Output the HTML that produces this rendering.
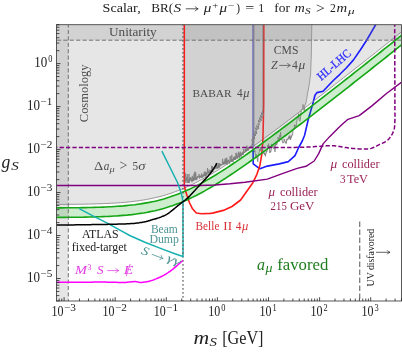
<!DOCTYPE html>
<html><head><meta charset="utf-8"><title>plot</title><style>html,body{margin:0;padding:0;background:#fff}svg{display:block;will-change:transform}</style></head><body>
<svg width="402" height="352" viewBox="0 0 402 352">
<defs><clipPath id="c"><rect x="56.5" y="24.7" width="345.0" height="276.3"/></clipPath></defs>
<rect width="402" height="352" fill="#fff"/>
<g clip-path="url(#c)">
<polygon points="56.5,24.7 56.5,204.4 59.4,204.4 62.3,204.4 65.2,204.4 68.1,204.4 71.0,204.3 73.9,204.3 76.8,204.3 79.7,204.2 82.6,204.2 85.5,204.1 88.4,204.1 91.3,204.0 94.2,203.9 97.1,203.8 100.0,203.7 102.9,203.6 105.8,203.5 108.7,203.4 111.6,203.2 114.5,203.1 117.4,202.9 120.3,202.7 123.2,202.4 126.1,202.2 129.0,201.9 131.9,201.6 134.8,201.2 137.7,200.9 140.6,200.4 143.5,200.0 146.4,199.5 149.3,198.9 152.2,198.3 155.1,197.7 158.0,197.0 160.9,196.3 163.8,195.5 166.7,194.6 169.6,193.7 172.5,192.7 175.4,191.6 178.3,190.5 181.2,189.4 184.1,188.2 187.0,186.9 189.9,185.6 192.8,184.2 195.7,182.7 198.6,181.2 201.5,179.7 204.4,178.1 207.3,176.4 210.2,174.8 213.1,173.0 216.0,171.3 218.9,169.5 221.8,167.7 224.7,165.8 227.6,163.9 230.4,162.0 233.3,160.1 236.2,158.1 239.1,156.1 242.0,154.1 244.9,152.1 247.8,150.1 250.7,148.0 253.6,146.0 256.5,143.9 259.4,141.8 262.3,139.7 265.2,137.6 268.1,135.5 271.0,133.3 273.9,131.2 276.8,129.0 279.7,126.9 282.6,124.7 285.5,122.5 288.4,120.3 291.3,118.1 294.2,115.9 297.1,113.7 300.0,111.5 302.9,109.3 305.8,107.1 308.7,104.9 311.6,102.6 314.5,100.4 317.4,98.2 320.3,95.9 323.2,93.7 326.1,91.4 329.0,89.2 331.9,86.9 334.8,84.6 337.7,82.4 340.6,80.1 343.5,77.8 346.4,75.6 349.3,73.3 352.2,71.0 355.1,68.7 358.0,66.4 360.9,64.2 363.8,61.9 366.7,59.6 369.6,57.3 372.5,55.0 375.4,52.7 378.3,50.4 381.2,48.1 384.1,45.8 387.0,43.5 389.9,41.2 392.8,38.9 395.7,36.5 398.6,34.2 401.5,31.9 401.5,24.7" fill="#808080" fill-opacity="0.2"/>
<path d="M253 24.7 V152" fill="none" stroke="#6c6cd6" stroke-width="1.5"/>
<path d="M375.8 24.5 L366.8 40.0 L360.3 50.0 L353.3 60.1 L346.5 67.8 L339.9 74.3 L333.8 80.0 L328.0 86.0 L323.1 91.2 L316.9 92.6 L315.0 95.2 L312.6 104.5 L308.5 118.5 L304.6 135.3 L302.5 140.5 L298.7 147.5 L295.0 155.7 L288.3 161.6 L279.3 163.9 L267.4 166.1 L259.9 168.8 L253.2 163.9 L253.1 150.0" fill="none" stroke="#1c1cff" stroke-width="1.6" stroke-linejoin="round"/>
<polygon points="56.5,207.9 59.4,207.9 62.3,207.9 65.2,207.8 68.1,207.8 71.0,207.8 73.9,207.8 76.8,207.7 79.7,207.7 82.6,207.6 85.5,207.6 88.4,207.5 91.3,207.5 94.2,207.4 97.1,207.3 100.0,207.2 102.9,207.1 105.8,207.0 108.7,206.8 111.6,206.7 114.5,206.5 117.4,206.3 120.3,206.1 123.2,205.9 126.1,205.6 129.0,205.3 131.9,205.0 134.8,204.7 137.7,204.3 140.6,203.9 143.5,203.4 146.4,202.9 149.3,202.4 152.2,201.8 155.1,201.2 158.0,200.5 160.9,199.7 163.8,198.9 166.7,198.0 169.6,197.1 172.5,196.1 175.4,195.1 178.3,194.0 181.2,192.8 184.1,191.6 187.0,190.3 189.9,189.0 192.8,187.6 195.7,186.2 198.6,184.7 201.5,183.1 204.4,181.5 207.3,179.9 210.2,178.2 213.1,176.5 216.0,174.7 218.9,172.9 221.8,171.1 224.7,169.3 227.6,167.4 230.4,165.5 233.3,163.5 236.2,161.6 239.1,159.6 242.0,157.6 244.9,155.6 247.8,153.5 250.7,151.5 253.6,149.4 256.5,147.4 259.4,145.3 262.3,143.2 265.2,141.0 268.1,138.9 271.0,136.8 273.9,134.6 276.8,132.5 279.7,130.3 282.6,128.1 285.5,126.0 288.4,123.8 291.3,121.6 294.2,119.4 297.1,117.2 300.0,115.0 302.9,112.8 305.8,110.5 308.7,108.3 311.6,106.1 314.5,103.9 317.4,101.6 320.3,99.4 323.2,97.1 326.1,94.9 329.0,92.6 331.9,90.4 334.8,88.1 337.7,85.8 340.6,83.6 343.5,81.3 346.4,79.0 349.3,76.8 352.2,74.5 355.1,72.2 358.0,69.9 360.9,67.6 363.8,65.3 366.7,63.0 369.6,60.7 372.5,58.4 375.4,56.1 378.3,53.8 381.2,51.5 384.1,49.2 387.0,46.9 389.9,44.6 392.8,42.3 395.7,40.0 398.6,37.7 401.5,35.4 401.5,44.9 398.6,47.2 395.7,49.5 392.8,51.8 389.9,54.1 387.0,56.5 384.1,58.8 381.2,61.1 378.3,63.4 375.4,65.7 372.5,68.0 369.6,70.3 366.7,72.6 363.8,74.9 360.9,77.1 358.0,79.4 355.1,81.7 352.2,84.0 349.3,86.3 346.4,88.6 343.5,90.8 340.6,93.1 337.7,95.4 334.8,97.6 331.9,99.9 329.0,102.2 326.1,104.4 323.2,106.7 320.3,108.9 317.4,111.1 314.5,113.4 311.6,115.6 308.7,117.8 305.8,120.1 302.9,122.3 300.0,124.5 297.1,126.7 294.2,128.9 291.3,131.1 288.4,133.3 285.5,135.5 282.6,137.7 279.7,139.8 276.8,142.0 273.9,144.2 271.0,146.3 268.1,148.4 265.2,150.6 262.3,152.7 259.4,154.8 256.5,156.9 253.6,159.0 250.7,161.0 247.8,163.1 244.9,165.1 242.0,167.1 239.1,169.1 236.2,171.1 233.3,173.1 230.4,175.0 227.6,176.9 224.7,178.8 221.8,180.6 218.9,182.5 216.0,184.3 213.1,186.0 210.2,187.7 207.3,189.4 204.4,191.1 201.5,192.7 198.6,194.2 195.7,195.7 192.8,197.1 189.9,198.5 187.0,199.9 184.1,201.1 181.2,202.4 178.3,203.5 175.4,204.6 172.5,205.7 169.6,206.6 166.7,207.6 163.8,208.4 160.9,209.2 158.0,210.0 155.1,210.7 152.2,211.3 149.3,211.9 146.4,212.5 143.5,213.0 140.6,213.4 137.7,213.8 134.8,214.2 131.9,214.6 129.0,214.9 126.1,215.2 123.2,215.4 120.3,215.6 117.4,215.9 114.5,216.0 111.6,216.2 108.7,216.4 105.8,216.5 102.9,216.6 100.0,216.7 97.1,216.8 94.2,216.9 91.3,217.0 88.4,217.0 85.5,217.1 82.6,217.2 79.7,217.2 76.8,217.2 73.9,217.3 71.0,217.3 68.1,217.3 65.2,217.4 62.3,217.4 59.4,217.4 56.5,217.4" fill="#22aa22" fill-opacity="0.22"/>
<path d="M56.5 204.4 L59.4 204.4 L62.3 204.4 L65.2 204.4 L68.1 204.4 L71.0 204.3 L73.9 204.3 L76.8 204.3 L79.7 204.2 L82.6 204.2 L85.5 204.1 L88.4 204.1 L91.3 204.0 L94.2 203.9 L97.1 203.8 L100.0 203.7 L102.9 203.6 L105.8 203.5 L108.7 203.4 L111.6 203.2 L114.5 203.1 L117.4 202.9 L120.3 202.7 L123.2 202.4 L126.1 202.2 L129.0 201.9 L131.9 201.6 L134.8 201.2 L137.7 200.9 L140.6 200.4 L143.5 200.0 L146.4 199.5 L149.3 198.9 L152.2 198.3 L155.1 197.7 L158.0 197.0 L160.9 196.3 L163.8 195.5 L166.7 194.6 L169.6 193.7 L172.5 192.7 L175.4 191.6 L178.3 190.5 L181.2 189.4 L184.1 188.2 L187.0 186.9 L189.9 185.6 L192.8 184.2 L195.7 182.7 L198.6 181.2 L201.5 179.7 L204.4 178.1 L207.3 176.4 L210.2 174.8 L213.1 173.0 L216.0 171.3 L218.9 169.5 L221.8 167.7 L224.7 165.8 L227.6 163.9 L230.4 162.0 L233.3 160.1 L236.2 158.1 L239.1 156.1 L242.0 154.1 L244.9 152.1 L247.8 150.1 L250.7 148.0 L253.6 146.0 L256.5 143.9 L259.4 141.8 L262.3 139.7 L265.2 137.6 L268.1 135.5 L271.0 133.3 L273.9 131.2 L276.8 129.0 L279.7 126.9 L282.6 124.7 L285.5 122.5 L288.4 120.3 L291.3 118.1 L294.2 115.9 L297.1 113.7 L300.0 111.5 L302.9 109.3 L305.8 107.1 L308.7 104.9 L311.6 102.6 L314.5 100.4 L317.4 98.2 L320.3 95.9 L323.2 93.7 L326.1 91.4 L329.0 89.2 L331.9 86.9 L334.8 84.6 L337.7 82.4 L340.6 80.1 L343.5 77.8 L346.4 75.6 L349.3 73.3 L352.2 71.0 L355.1 68.7 L358.0 66.4 L360.9 64.2 L363.8 61.9 L366.7 59.6 L369.6 57.3 L372.5 55.0 L375.4 52.7 L378.3 50.4 L381.2 48.1 L384.1 45.8 L387.0 43.5 L389.9 41.2 L392.8 38.9 L395.7 36.5 L398.6 34.2 L401.5 31.9" fill="none" stroke="#8c8c8c" stroke-width="0.9"/>
<rect x="56.5" y="24.7" width="11.599999999999994" height="276.3" fill="#808080" fill-opacity="0.2"/>
<rect x="68.3" y="24.7" width="333.2" height="15.3" fill="#808080" fill-opacity="0.2"/>
<path d="M184.3 24.5 L184.3 185.5 L185.4 190.5 L186.9 195.3 L189.4 202.5 L192.5 208.8 L196.3 213.0 L201.6 213.7 L210.0 213.4 L212.5 213.1 L223.3 210.4 L232.0 206.5 L240.6 200.0 L247.2 190.7 L252.5 183.3 L256.9 174.3 L259.9 165.4 L261.7 154.9 L262.9 140.0 L263.7 105.0 L263.8 24.5" fill="none" stroke="#ff1a1a" stroke-width="1.6" stroke-linejoin="round"/>
<polygon points="185.1,24.7 185.1,182 185.2,182.3 185.6,173.3 186.0,182.8 186.5,177.6 186.9,180.8 187.3,174.3 187.7,182.9 188.1,179.3 188.6,183.0 189.0,174.0 189.4,182.8 189.8,177.9 190.2,180.7 190.7,177.0 191.1,180.5 191.5,178.5 191.9,182.2 192.3,175.9 192.8,181.3 193.2,177.6 193.6,181.0 194.0,173.7 194.4,180.3 194.9,171.6 195.3,179.8 195.7,172.4 196.1,180.2 196.5,177.2 197.0,179.6 197.4,175.9 197.8,177.5 198.2,176.2 198.6,177.4 199.1,174.0 199.5,178.6 199.9,175.8 200.3,177.5 200.7,175.6 201.2,178.0 201.6,173.5 202.0,177.5 202.4,174.9 202.8,177.6 203.3,174.6 203.7,176.7 204.1,172.6 204.5,176.0 204.9,171.3 205.4,176.5 205.8,172.2 206.2,176.1 206.6,172.7 207.0,174.7 207.5,168.1 207.9,174.2 208.3,171.4 208.7,173.1 209.1,169.6 209.6,172.6 210.0,170.9 210.4,172.8 210.8,170.0 211.2,172.3 211.7,165.9 212.1,171.8 212.5,166.2 212.9,171.8 213.3,168.7 213.8,169.2 214.2,167.2 214.6,169.3 215.0,167.5 215.4,168.6 215.9,163.5 216.3,168.4 216.7,165.5 217.1,168.9 217.5,165.5 218.0,168.3 218.4,163.0 218.8,168.0 219.2,163.2 219.6,167.5 220.1,163.8 220.5,166.1 220.9,164.1 221.3,165.7 221.7,164.3 222.2,164.9 222.6,158.8 223.0,165.0 223.4,162.0 223.8,164.3 224.3,160.7 224.7,164.4 225.1,158.6 225.5,164.1 225.9,158.5 226.4,164.0 226.8,157.7 227.2,164.5 227.6,160.2 228.0,162.7 228.5,159.8 228.9,162.2 229.3,160.9 229.7,163.7 230.1,156.1 230.6,161.2 231.0,159.7 231.4,161.8 231.8,154.9 232.2,161.9 232.7,159.2 233.1,161.8 233.5,157.4 233.9,159.9 234.3,156.6 234.8,160.0 235.2,156.5 235.6,160.0 236.0,152.8 236.4,158.5 236.9,153.3 237.3,158.8 237.7,155.8 238.1,156.8 238.5,151.8 239.0,158.3 239.4,153.4 239.8,157.7 240.2,151.7 240.6,156.3 241.1,152.7 241.5,156.5 241.9,153.9 242.3,155.0 242.7,151.9 243.2,155.0 243.6,149.3 244.0,153.2 244.4,151.9 244.8,152.7 245.3,149.1 245.7,152.1 246.1,148.6 246.5,151.3 246.9,145.6 247.4,150.5 247.8,147.1 248.2,150.7 248.6,148.1 249.0,148.7 249.5,147.3 249.9,148.0 250.3,146.7 250.7,147.0 251.1,145.5 251.6,148.3 252.0,143.7 252.8,145.0 251.9,139.5 253.8,142.2 252.9,136.7 254.7,139.1 253.8,133.6 255.6,136.0 254.9,131.2 256.8,133.9 255.6,127.8 257.3,130.0 256.7,125.6 258.8,128.8 258.0,123.8 259.3,125.1 258.5,120.2 260.2,122.2 259.5,117.8 261.4,120.7 260.5,115.4 262.4,118.3 261.4,112.7 263.3,115.5 262.5,110.8 263.7,24.7" fill="#808080" fill-opacity="0.2"/>
<path d="M184.6 182.0 L185.2 182.3 L185.6 173.3 L186.0 182.8 L186.5 177.6 L186.9 180.8 L187.3 174.3 L187.7 182.9 L188.1 179.3 L188.6 183.0 L189.0 174.0 L189.4 182.8 L189.8 177.9 L190.2 180.7 L190.7 177.0 L191.1 180.5 L191.5 178.5 L191.9 182.2 L192.3 175.9 L192.8 181.3 L193.2 177.6 L193.6 181.0 L194.0 173.7 L194.4 180.3 L194.9 171.6 L195.3 179.8 L195.7 172.4 L196.1 180.2 L196.5 177.2 L197.0 179.6 L197.4 175.9 L197.8 177.5 L198.2 176.2 L198.6 177.4 L199.1 174.0 L199.5 178.6 L199.9 175.8 L200.3 177.5 L200.7 175.6 L201.2 178.0 L201.6 173.5 L202.0 177.5 L202.4 174.9 L202.8 177.6 L203.3 174.6 L203.7 176.7 L204.1 172.6 L204.5 176.0 L204.9 171.3 L205.4 176.5 L205.8 172.2 L206.2 176.1 L206.6 172.7 L207.0 174.7 L207.5 168.1 L207.9 174.2 L208.3 171.4 L208.7 173.1 L209.1 169.6 L209.6 172.6 L210.0 170.9 L210.4 172.8 L210.8 170.0 L211.2 172.3 L211.7 165.9 L212.1 171.8 L212.5 166.2 L212.9 171.8 L213.3 168.7 L213.8 169.2 L214.2 167.2 L214.6 169.3 L215.0 167.5 L215.4 168.6 L215.9 163.5 L216.3 168.4 L216.7 165.5 L217.1 168.9 L217.5 165.5 L218.0 168.3 L218.4 163.0 L218.8 168.0 L219.2 163.2 L219.6 167.5 L220.1 163.8 L220.5 166.1 L220.9 164.1 L221.3 165.7 L221.7 164.3 L222.2 164.9 L222.6 158.8 L223.0 165.0 L223.4 162.0 L223.8 164.3 L224.3 160.7 L224.7 164.4 L225.1 158.6 L225.5 164.1 L225.9 158.5 L226.4 164.0 L226.8 157.7 L227.2 164.5 L227.6 160.2 L228.0 162.7 L228.5 159.8 L228.9 162.2 L229.3 160.9 L229.7 163.7 L230.1 156.1 L230.6 161.2 L231.0 159.7 L231.4 161.8 L231.8 154.9 L232.2 161.9 L232.7 159.2 L233.1 161.8 L233.5 157.4 L233.9 159.9 L234.3 156.6 L234.8 160.0 L235.2 156.5 L235.6 160.0 L236.0 152.8 L236.4 158.5 L236.9 153.3 L237.3 158.8 L237.7 155.8 L238.1 156.8 L238.5 151.8 L239.0 158.3 L239.4 153.4 L239.8 157.7 L240.2 151.7 L240.6 156.3 L241.1 152.7 L241.5 156.5 L241.9 153.9 L242.3 155.0 L242.7 151.9 L243.2 155.0 L243.6 149.3 L244.0 153.2 L244.4 151.9 L244.8 152.7 L245.3 149.1 L245.7 152.1 L246.1 148.6 L246.5 151.3 L246.9 145.6 L247.4 150.5 L247.8 147.1 L248.2 150.7 L248.6 148.1 L249.0 148.7 L249.5 147.3 L249.9 148.0 L250.3 146.7 L250.7 147.0 L251.1 145.5 L251.6 148.3 L252.0 143.7" fill="none" stroke="#7a7a7a" stroke-width="0.75" stroke-linejoin="round"/>
<path d="M252.0 143.7 L252.8 145.0 L251.9 139.5 L253.8 142.2 L252.9 136.7 L254.7 139.1 L253.8 133.6 L255.6 136.0 L254.9 131.2 L256.8 133.9 L255.6 127.8 L257.3 130.0 L256.7 125.6 L258.8 128.8 L258.0 123.8 L259.3 125.1 L258.5 120.2 L260.2 122.2 L259.5 117.8 L261.4 120.7 L260.5 115.4 L262.4 118.3 L261.4 112.7 L263.3 115.5 L262.5 110.8" fill="none" stroke="#808080" stroke-width="1.0" stroke-linejoin="round"/>
<polygon points="253,24.7 253.0,147.6 253.4,147.4 253.8,149.8 254.2,150.2 254.6,152.2 255.0,150.6 255.4,155.9 255.8,157.5 256.2,154.2 256.6,155.6 257.0,157.3 257.4,160.0 257.8,161.6 258.2,155.1 258.6,154.8 259.0,152.8 259.4,151.4 259.8,149.1 260.2,151.1 260.6,147.0 261.0,150.1 261.4,149.8 261.8,147.3 262.2,148.1 262.6,149.7 263.0,153.9 263.4,150.9 263.8,150.6 264.2,153.8 264.6,155.0 265.0,152.9 265.4,156.3 265.8,153.6 266.2,153.5 266.6,150.9 267.0,151.6 267.4,150.0 267.8,145.0 268.2,148.0 268.6,143.7 269.0,147.6 269.4,146.0 269.8,152.9 270.2,150.9 270.6,152.2 271.0,151.3 271.4,146.5 271.8,143.9 272.2,146.2 272.6,147.6 273.0,146.7 273.4,148.2 273.8,148.9 274.2,145.2 274.6,148.6 275.0,151.8 275.4,146.6 275.8,143.1 276.2,145.2 276.6,143.9 277.0,144.4 277.4,141.2 277.8,142.0 278.2,137.1 278.6,141.4 279.0,141.7 279.4,140.4 279.8,134.9 280.2,137.2 280.6,132.2 281.0,138.8 281.4,139.3 281.8,138.8 282.2,141.7 282.6,141.6 283.0,143.2 283.4,142.1 283.8,142.6 284.2,139.1 284.6,140.7 285.0,141.8 285.4,142.6 285.8,141.6 286.2,143.7 286.6,139.2 287.0,139.9 287.4,140.2 287.8,138.7 288.2,139.2 288.6,136.7 289.0,139.3 289.4,135.6 289.8,138.3 290.2,136.9 290.6,140.0 291.0,135.6 291.4,137.7 291.8,134.9 292.2,134.8 292.6,135.2 293.0,130.1 293.4,128.6 293.8,128.2 294.2,129.3 294.6,124.7 295.0,127.2 295.4,125.2 295.8,125.9 296.2,125.9 296.6,124.1 297.0,119.3 297.4,118.9 297.8,119.0 298.2,118.0 298.6,113.7 299.0,118.8 299.4,120.8 299.8,121.3 300.2,120.9 300.6,116.5 301.0,113.5 301.4,109.8 301.8,109.6 302.2,108.8 302.6,108.7 303.0,104.5 303.4,106.3 303.8,108.7 304.2,110.7 304.6,106.9 305.0,104.5 305.6,104.2 306.6,99.5 307.5,94.0 308.6,88.0 309.6,82.0 310.6,74.0 311.3,55.0 311.8,24.5" fill="#808080" fill-opacity="0.2"/>
<path d="M253.0 147.6 L253.4 147.4 L253.8 149.8 L254.2 150.2 L254.6 152.2 L255.0 150.6 L255.4 155.9 L255.8 157.5 L256.2 154.2 L256.6 155.6 L257.0 157.3 L257.4 160.0 L257.8 161.6 L258.2 155.1 L258.6 154.8 L259.0 152.8 L259.4 151.4 L259.8 149.1 L260.2 151.1 L260.6 147.0 L261.0 150.1 L261.4 149.8 L261.8 147.3 L262.2 148.1 L262.6 149.7 L263.0 153.9 L263.4 150.9 L263.8 150.6 L264.2 153.8 L264.6 155.0 L265.0 152.9 L265.4 156.3 L265.8 153.6 L266.2 153.5 L266.6 150.9 L267.0 151.6 L267.4 150.0 L267.8 145.0 L268.2 148.0 L268.6 143.7 L269.0 147.6 L269.4 146.0 L269.8 152.9 L270.2 150.9 L270.6 152.2 L271.0 151.3 L271.4 146.5 L271.8 143.9 L272.2 146.2 L272.6 147.6 L273.0 146.7 L273.4 148.2 L273.8 148.9 L274.2 145.2 L274.6 148.6 L275.0 151.8 L275.4 146.6 L275.8 143.1 L276.2 145.2 L276.6 143.9 L277.0 144.4 L277.4 141.2 L277.8 142.0 L278.2 137.1 L278.6 141.4 L279.0 141.7 L279.4 140.4 L279.8 134.9 L280.2 137.2 L280.6 132.2 L281.0 138.8 L281.4 139.3 L281.8 138.8 L282.2 141.7 L282.6 141.6 L283.0 143.2 L283.4 142.1 L283.8 142.6 L284.2 139.1 L284.6 140.7 L285.0 141.8 L285.4 142.6 L285.8 141.6 L286.2 143.7 L286.6 139.2 L287.0 139.9 L287.4 140.2 L287.8 138.7 L288.2 139.2 L288.6 136.7 L289.0 139.3 L289.4 135.6 L289.8 138.3 L290.2 136.9 L290.6 140.0 L291.0 135.6 L291.4 137.7 L291.8 134.9 L292.2 134.8 L292.6 135.2 L293.0 130.1 L293.4 128.6 L293.8 128.2 L294.2 129.3 L294.6 124.7 L295.0 127.2 L295.4 125.2 L295.8 125.9 L296.2 125.9 L296.6 124.1 L297.0 119.3 L297.4 118.9 L297.8 119.0 L298.2 118.0 L298.6 113.7 L299.0 118.8 L299.4 120.8 L299.8 121.3 L300.2 120.9 L300.6 116.5 L301.0 113.5 L301.4 109.8 L301.8 109.6 L302.2 108.8 L302.6 108.7 L303.0 104.5 L303.4 106.3 L303.8 108.7 L304.2 110.7 L304.6 106.9 L305.0 104.5 L305.6 104.2" fill="none" stroke="#7f7f7f" stroke-width="0.85" stroke-linejoin="round"/>
<path d="M305.6 104.2 L306.6 99.5 L307.5 94.0 L308.6 88.0 L309.6 82.0 L310.6 74.0 L311.3 55.0 L311.8 24.5" fill="none" stroke="#8a8a8a" stroke-width="0.8" stroke-linejoin="round"/>
<path d="M254.0 24.7 V147" fill="none" stroke="#707070" stroke-width="0.6"/>
<path d="M262.9 24.7 V113" fill="none" stroke="#707070" stroke-width="0.6"/>
<path d="M56.5 207.9 L59.4 207.9 L62.3 207.9 L65.2 207.8 L68.1 207.8 L71.0 207.8 L73.9 207.8 L76.8 207.7 L79.7 207.7 L82.6 207.6 L85.5 207.6 L88.4 207.5 L91.3 207.5 L94.2 207.4 L97.1 207.3 L100.0 207.2 L102.9 207.1 L105.8 207.0 L108.7 206.8 L111.6 206.7 L114.5 206.5 L117.4 206.3 L120.3 206.1 L123.2 205.9 L126.1 205.6 L129.0 205.3 L131.9 205.0 L134.8 204.7 L137.7 204.3 L140.6 203.9 L143.5 203.4 L146.4 202.9 L149.3 202.4 L152.2 201.8 L155.1 201.2 L158.0 200.5 L160.9 199.7 L163.8 198.9 L166.7 198.0 L169.6 197.1 L172.5 196.1 L175.4 195.1 L178.3 194.0 L181.2 192.8 L184.1 191.6 L187.0 190.3 L189.9 189.0 L192.8 187.6 L195.7 186.2 L198.6 184.7 L201.5 183.1 L204.4 181.5 L207.3 179.9 L210.2 178.2 L213.1 176.5 L216.0 174.7 L218.9 172.9 L221.8 171.1 L224.7 169.3 L227.6 167.4 L230.4 165.5 L233.3 163.5 L236.2 161.6 L239.1 159.6 L242.0 157.6 L244.9 155.6 L247.8 153.5 L250.7 151.5 L253.6 149.4 L256.5 147.4 L259.4 145.3 L262.3 143.2 L265.2 141.0 L268.1 138.9 L271.0 136.8 L273.9 134.6 L276.8 132.5 L279.7 130.3 L282.6 128.1 L285.5 126.0 L288.4 123.8 L291.3 121.6 L294.2 119.4 L297.1 117.2 L300.0 115.0 L302.9 112.8 L305.8 110.5 L308.7 108.3 L311.6 106.1 L314.5 103.9 L317.4 101.6 L320.3 99.4 L323.2 97.1 L326.1 94.9 L329.0 92.6 L331.9 90.4 L334.8 88.1 L337.7 85.8 L340.6 83.6 L343.5 81.3 L346.4 79.0 L349.3 76.8 L352.2 74.5 L355.1 72.2 L358.0 69.9 L360.9 67.6 L363.8 65.3 L366.7 63.0 L369.6 60.7 L372.5 58.4 L375.4 56.1 L378.3 53.8 L381.2 51.5 L384.1 49.2 L387.0 46.9 L389.9 44.6 L392.8 42.3 L395.7 40.0 L398.6 37.7 L401.5 35.4" fill="none" stroke="#14a614" stroke-width="1.6"/>
<path d="M56.5 217.4 L59.4 217.4 L62.3 217.4 L65.2 217.4 L68.1 217.3 L71.0 217.3 L73.9 217.3 L76.8 217.2 L79.7 217.2 L82.6 217.2 L85.5 217.1 L88.4 217.0 L91.3 217.0 L94.2 216.9 L97.1 216.8 L100.0 216.7 L102.9 216.6 L105.8 216.5 L108.7 216.4 L111.6 216.2 L114.5 216.0 L117.4 215.9 L120.3 215.6 L123.2 215.4 L126.1 215.2 L129.0 214.9 L131.9 214.6 L134.8 214.2 L137.7 213.8 L140.6 213.4 L143.5 213.0 L146.4 212.5 L149.3 211.9 L152.2 211.3 L155.1 210.7 L158.0 210.0 L160.9 209.2 L163.8 208.4 L166.7 207.6 L169.6 206.6 L172.5 205.7 L175.4 204.6 L178.3 203.5 L181.2 202.4 L184.1 201.1 L187.0 199.9 L189.9 198.5 L192.8 197.1 L195.7 195.7 L198.6 194.2 L201.5 192.7 L204.4 191.1 L207.3 189.4 L210.2 187.7 L213.1 186.0 L216.0 184.3 L218.9 182.5 L221.8 180.6 L224.7 178.8 L227.6 176.9 L230.4 175.0 L233.3 173.1 L236.2 171.1 L239.1 169.1 L242.0 167.1 L244.9 165.1 L247.8 163.1 L250.7 161.0 L253.6 159.0 L256.5 156.9 L259.4 154.8 L262.3 152.7 L265.2 150.6 L268.1 148.4 L271.0 146.3 L273.9 144.2 L276.8 142.0 L279.7 139.8 L282.6 137.7 L285.5 135.5 L288.4 133.3 L291.3 131.1 L294.2 128.9 L297.1 126.7 L300.0 124.5 L302.9 122.3 L305.8 120.1 L308.7 117.8 L311.6 115.6 L314.5 113.4 L317.4 111.1 L320.3 108.9 L323.2 106.7 L326.1 104.4 L329.0 102.2 L331.9 99.9 L334.8 97.6 L337.7 95.4 L340.6 93.1 L343.5 90.8 L346.4 88.6 L349.3 86.3 L352.2 84.0 L355.1 81.7 L358.0 79.4 L360.9 77.1 L363.8 74.9 L366.7 72.6 L369.6 70.3 L372.5 68.0 L375.4 65.7 L378.3 63.4 L381.2 61.1 L384.1 58.8 L387.0 56.5 L389.9 54.1 L392.8 51.8 L395.7 49.5 L398.6 47.2 L401.5 44.9" fill="none" stroke="#14a614" stroke-width="1.6"/>
<line x1="68.3" y1="24.7" x2="68.3" y2="301.0" stroke="#6c6c6c" stroke-width="0.95" stroke-dasharray="4.2 2.2" stroke-dashoffset="1.2"/>
<line x1="56.5" y1="40.2" x2="401.5" y2="40.2" stroke="#6c6c6c" stroke-width="0.95" stroke-dasharray="4.2 2.22" stroke-dashoffset="6.06"/>
<line x1="183.0" y1="24.7" x2="183.0" y2="301.0" stroke="#5c5c5c" stroke-width="1.55" stroke-dasharray="0.2 3.8" stroke-linecap="round"/>
<line x1="359.7" y1="221.6" x2="359.7" y2="302.0" stroke="#767676" stroke-width="1.25" stroke-dasharray="5.3 2.7"/>
<path d="M56.5 147.6 H217.2" fill="none" stroke="#800080" stroke-width="1.5" stroke-dasharray="4.3 2.12" stroke-dashoffset="3.36"/>
<path d="M216.5 147.5 L218.6 147.5 L221.3 147.5 L224.4 147.5 L227.9 147.5 L231.7 147.5 L235.8 147.5 L239.9 147.4 L244.1 147.4 L248.4 147.4 L252.4 147.4 L256.4 147.4 L260.0 147.4 L263.5 147.4 L267.2 147.4 L270.8 147.4 L274.5 147.4 L278.2 147.4 L281.8 147.4 L285.3 147.4 L288.7 147.4 L291.8 147.4 L294.8 147.4 L297.6 147.3 L300.0 147.3 L302.1 147.3 L303.9 147.2 L305.5 147.2 L306.8 147.1 L308.0 147.1 L309.0 147.0 L310.0 146.9 L310.9 146.9 L311.8 146.8 L312.7 146.7 L313.7 146.7 L314.9 146.6 L316.2 146.5 L317.5 146.4 L318.8 146.4 L320.2 146.3 L321.5 146.2 L322.9 146.1 L324.2 146.0 L325.5 145.9 L326.7 145.8 L327.8 145.8 L328.9 145.7 L329.9 145.7 L330.8 145.7 L331.5 145.7 L332.2 145.7 L332.8 145.7 L333.3 145.7 L333.8 145.7 L334.3 145.8 L334.8 145.8 L335.3 145.9 L335.9 145.9 L336.5 146.0 L337.3 146.1 L338.1 146.2 L339.0 146.4 L340.0 146.5 L341.0 146.7 L342.0 146.9 L343.0 147.1 L344.1 147.3 L345.1 147.5 L346.2 147.6 L347.2 147.8 L348.3 148.0 L349.3 148.1 L350.3 148.2 L351.3 148.3 L352.4 148.4 L353.4 148.5 L354.5 148.6 L355.5 148.7 L356.6 148.8 L357.6 148.8 L358.6 148.9 L359.6 148.9 L360.5 149.0 L361.4 149.0 L362.3 149.0 L363.1 149.1 L363.9 149.1 L364.6 149.1 L365.4 149.1 L366.1 149.1 L366.8 149.1 L367.5 149.0 L368.2 149.0 L368.9 148.9 L369.7 148.8 L370.4 148.6 L371.1 148.4 L371.9 148.1 L372.7 147.8 L373.4 147.5 L374.2 147.2 L374.9 146.8 L375.7 146.4 L376.4 146.1 L377.2 145.7 L377.9 145.3 L378.6 144.9 L379.3 144.6 L380.0 144.3 L380.7 144.0 L381.3 143.7 L382.0 143.4 L382.7 143.1 L383.3 142.8 L384.0 142.5 L384.6 142.2 L385.2 141.8 L385.7 141.5 L386.3 141.2 L386.8 140.8 L387.3 140.4 L387.7 140.0 L388.2 139.6 L388.6 139.2 L389.0 138.8 L389.3 138.4 L389.7 137.9 L390.0 137.5 L390.4 137.0 L390.7 136.6 L391.0 136.1 L391.3 135.6 L391.6 135.1 L391.9 134.6 L392.2 134.1 L392.5 133.6 L392.7 133.0 L393.0 132.5 L393.2 131.9 L393.5 131.4 L393.7 130.8 L393.9 130.2 L394.0 129.5 L394.2 128.9 L394.3 128.3 L394.5 127.7 L394.5 127.1 L394.6 126.5 L394.7 125.9 L394.7 125.2 L394.8 124.5 L394.8 123.8 L394.8 123.0 L394.8 122.1 L394.9 121.0 L394.9 119.9 L394.9 118.8 L394.9 117.9 L395.0 117.0 L395.0 116.1 L395.0 115.2 L395.0 114.1 L394.9 112.8 L394.9 111.2 L394.9 109.1 L394.9 106.7 L394.9 103.6 L394.9 100.0 L394.9 95.4 L394.9 89.8 L394.9 83.3 L394.8 76.2 L394.8 68.7 L394.8 61.0 L394.8 53.4 L394.8 46.1 L394.7 39.4 L394.7 33.4 L394.7 28.3 L394.7 24.5" fill="none" stroke="#800080" stroke-width="1.5" stroke-dasharray="4.3 2.12"/>
<path d="M56.5 185.5 L200.0 185.5 L215.0 185.0 L230.0 183.8 L245.0 182.2 L267.4 179.1 L282.3 173.6 L297.2 168.4 L306.0 166.3 L314.2 161.0 L318.7 153.6 L323.1 143.9 L329.9 136.4 L338.8 127.5 L342.0 124.5 L348.0 119.3 L359.2 115.6 L371.9 105.9 L386.8 93.2 L401.7 82.0" fill="none" stroke="#800080" stroke-width="1.4" stroke-linejoin="round"/>
<path d="M161.9 151.2 L168.8 165.0 L175.0 177.5 L177.5 182.5 L180.6 191.2 L182.3 197.5 L183.0 203.0 L183.0 256.5 L174.8 253.8 L159.9 248.1 L144.9 242.2 L129.7 235.5 L122.2 231.3 L107.3 223.1 L92.4 215.7 L79.2 208.7" fill="none" stroke="#17b0b0" stroke-width="1.5" stroke-linejoin="round"/>
<line x1="183.0" y1="203" x2="183.0" y2="256" stroke="#787878" stroke-width="1.6" stroke-dasharray="0.5 3.5" stroke-linecap="round" stroke-dashoffset="-2.0"/>
<path d="M56.5 225.0 L57.6 225.0 L59.1 225.0 L60.8 225.0 L62.7 225.0 L64.8 224.9 L67.0 224.9 L69.3 224.9 L71.6 224.9 L73.8 224.9 L76.0 224.8 L78.1 224.8 L80.0 224.8 L81.8 224.8 L83.6 224.8 L85.4 224.7 L87.1 224.7 L88.8 224.7 L90.5 224.7 L92.2 224.6 L93.8 224.6 L95.4 224.6 L97.0 224.6 L98.5 224.5 L100.0 224.5 L101.4 224.5 L102.8 224.4 L104.2 224.4 L105.6 224.4 L106.9 224.4 L108.1 224.3 L109.4 224.3 L110.6 224.3 L111.7 224.3 L112.8 224.3 L113.9 224.2 L115.0 224.2 L116.0 224.2 L117.0 224.2 L117.9 224.1 L118.7 224.1 L119.5 224.1 L120.3 224.1 L121.1 224.0 L121.9 224.0 L122.6 224.0 L123.4 224.0 L124.2 223.9 L125.0 223.9 L125.8 223.9 L126.7 223.8 L127.5 223.8 L128.3 223.8 L129.2 223.7 L130.0 223.7 L130.8 223.6 L131.7 223.6 L132.5 223.5 L133.3 223.5 L134.2 223.4 L135.0 223.3 L135.8 223.2 L136.7 223.1 L137.5 223.0 L138.4 222.9 L139.3 222.8 L140.1 222.6 L141.0 222.5 L141.8 222.4 L142.6 222.2 L143.4 222.1 L144.2 221.9 L144.9 221.8 L145.6 221.7 L146.3 221.5 L146.9 221.3 L147.5 221.2 L148.1 221.0 L148.7 220.8 L149.2 220.7 L149.8 220.5 L150.3 220.3 L150.9 220.1 L151.4 220.0 L152.0 219.8 L152.5 219.6 L153.1 219.5 L153.6 219.4 L154.1 219.2 L154.6 219.1 L155.1 219.0 L155.6 218.8 L156.1 218.7 L156.6 218.5 L157.2 218.3 L157.8 218.1 L158.4 217.9 L159.1 217.7 L159.7 217.4 L160.4 217.2 L161.2 216.9 L161.9 216.6 L162.6 216.3 L163.4 216.0 L164.2 215.7 L165.0 215.3 L165.8 214.9 L166.7 214.4 L167.5 213.9 L168.4 213.3 L169.3 212.7 L170.2 212.0 L171.2 211.2 L172.2 210.4 L173.1 209.6 L174.1 208.8 L175.1 208.0 L176.1 207.2 L177.0 206.4 L177.9 205.7 L178.8 205.0 L179.6 204.4 L180.3 203.8 L181.1 203.2 L181.8 202.7 L182.5 202.2 L183.2 201.7 L183.9 201.1 L184.6 200.6 L185.3 200.0 L186.0 199.4 L186.7 198.8 L187.5 198.1 L188.3 197.4 L189.1 196.6 L189.9 195.8 L190.6 195.0 L191.5 194.1 L192.3 193.2 L193.1 192.3 L193.9 191.4 L194.8 190.5 L195.7 189.5 L196.6 188.5 L197.5 187.5 L198.5 186.5 L199.5 185.4 L200.6 184.2 L201.7 183.0 L202.8 181.8 L203.9 180.6 L205.1 179.4 L206.1 178.2 L207.2 177.0 L208.2 175.9 L209.1 174.8 L210.0 173.8 L210.8 172.7 L211.6 171.7 L212.3 170.6 L213.0 169.6 L213.7 168.6 L214.3 167.6 L214.9 166.7 L215.4 165.8 L215.9 165.0 L216.3 164.3 L216.7 163.7 L217.0 163.2" fill="none" stroke="#000" stroke-width="1.5"/>
<path d="M56.5 282.3 L57.6 282.3 L59.1 282.3 L60.8 282.3 L62.7 282.3 L64.8 282.3 L67.0 282.3 L69.3 282.3 L71.6 282.3 L73.8 282.3 L76.0 282.3 L78.1 282.3 L80.0 282.3 L81.8 282.3 L83.6 282.3 L85.4 282.3 L87.1 282.2 L88.8 282.2 L90.5 282.2 L92.2 282.2 L93.8 282.1 L95.4 282.1 L97.0 282.1 L98.5 282.1 L100.0 282.1 L101.4 282.1 L102.8 282.1 L104.2 282.1 L105.6 282.1 L106.9 282.2 L108.1 282.2 L109.4 282.2 L110.6 282.2 L111.7 282.2 L112.8 282.3 L113.9 282.3 L115.0 282.3 L116.0 282.3 L117.0 282.3 L117.9 282.4 L118.7 282.4 L119.5 282.4 L120.3 282.4 L121.1 282.4 L121.9 282.4 L122.6 282.4 L123.4 282.4 L124.2 282.4 L125.0 282.4 L125.8 282.4 L126.7 282.3 L127.5 282.2 L128.4 282.1 L129.2 282.0 L130.1 282.0 L130.9 281.9 L131.7 281.8 L132.5 281.7 L133.3 281.7 L134.0 281.6 L134.7 281.6 L135.3 281.6 L135.9 281.7 L136.5 281.7 L137.0 281.8 L137.6 281.9 L138.1 282.0 L138.5 282.1 L139.0 282.2 L139.5 282.3 L140.1 282.4 L140.6 282.4 L141.2 282.4 L141.8 282.4 L142.5 282.3 L143.1 282.3 L143.8 282.2 L144.5 282.1 L145.2 282.0 L145.8 281.9 L146.5 281.8 L147.2 281.7 L147.9 281.5 L148.6 281.4 L149.3 281.2 L150.0 281.0 L150.7 280.8 L151.3 280.6 L152.0 280.4 L152.7 280.2 L153.4 279.9 L154.0 279.7 L154.7 279.4 L155.4 279.1 L156.1 278.9 L156.7 278.6 L157.4 278.3 L158.1 278.0 L158.8 277.7 L159.4 277.4 L160.1 277.1 L160.8 276.8 L161.5 276.5 L162.1 276.1 L162.8 275.8 L163.5 275.4 L164.2 275.1 L164.8 274.7 L165.5 274.3 L166.2 273.9 L166.9 273.4 L167.5 273.0 L168.2 272.5 L168.9 272.0 L169.6 271.6 L170.3 271.1 L170.9 270.6 L171.6 270.1 L172.3 269.6 L172.9 269.1 L173.5 268.6 L174.1 268.1 L174.7 267.6 L175.3 267.1 L175.9 266.6 L176.5 266.1 L177.1 265.5 L177.6 265.0 L178.2 264.6 L178.7 264.1 L179.1 263.7 L179.6 263.3 L180.0 262.9 L180.4 262.6 L180.7 262.3 L181.0 262.0 L181.3 261.8 L181.6 261.5 L181.8 261.3 L182.0 261.2 L182.2 261.0 L182.4 260.9 L182.5 260.7 L182.7 260.6 L182.8 260.5" fill="none" stroke="#ff00ff" stroke-width="1.5"/>
</g>
<rect x="56.5" y="24.7" width="345.0" height="276.3" fill="none" stroke="#3a3a3a" stroke-width="0.85"/>
<path d="M59.15 301.0 v-2.5 M61.76 301.0 v-2.5 M64.10 301.0 v-3.8 M79.48 301.0 v-2.5 M88.48 301.0 v-2.5 M94.87 301.0 v-2.5 M99.82 301.0 v-2.5 M103.86 301.0 v-2.5 M107.28 301.0 v-2.5 M110.25 301.0 v-2.5 M112.86 301.0 v-2.5 M115.20 301.0 v-3.8 M130.58 301.0 v-2.5 M139.58 301.0 v-2.5 M145.97 301.0 v-2.5 M150.92 301.0 v-2.5 M154.96 301.0 v-2.5 M158.38 301.0 v-2.5 M161.35 301.0 v-2.5 M163.96 301.0 v-2.5 M166.30 301.0 v-3.8 M181.68 301.0 v-2.5 M190.68 301.0 v-2.5 M197.07 301.0 v-2.5 M202.02 301.0 v-2.5 M206.06 301.0 v-2.5 M209.48 301.0 v-2.5 M212.45 301.0 v-2.5 M215.06 301.0 v-2.5 M217.40 301.0 v-3.8 M232.78 301.0 v-2.5 M241.78 301.0 v-2.5 M248.17 301.0 v-2.5 M253.12 301.0 v-2.5 M257.16 301.0 v-2.5 M260.58 301.0 v-2.5 M263.55 301.0 v-2.5 M266.16 301.0 v-2.5 M268.50 301.0 v-3.8 M283.88 301.0 v-2.5 M292.88 301.0 v-2.5 M299.27 301.0 v-2.5 M304.22 301.0 v-2.5 M308.26 301.0 v-2.5 M311.68 301.0 v-2.5 M314.65 301.0 v-2.5 M317.26 301.0 v-2.5 M319.60 301.0 v-3.8 M334.98 301.0 v-2.5 M343.98 301.0 v-2.5 M350.37 301.0 v-2.5 M355.32 301.0 v-2.5 M359.36 301.0 v-2.5 M362.78 301.0 v-2.5 M365.75 301.0 v-2.5 M368.36 301.0 v-2.5 M370.70 301.0 v-3.8 M386.08 301.0 v-2.5 M395.08 301.0 v-2.5 M401.47 301.0 v-2.5 M56.5 300.97 h2.9 M56.5 295.60 h2.9 M56.5 291.44 h2.9 M56.5 288.04 h2.9 M56.5 285.16 h2.9 M56.5 282.67 h2.9 M56.5 280.47 h2.9 M56.5 278.50 h4.0 M56.5 265.56 h2.9 M56.5 257.99 h2.9 M56.5 252.62 h2.9 M56.5 248.46 h2.9 M56.5 245.06 h2.9 M56.5 242.18 h2.9 M56.5 239.69 h2.9 M56.5 237.49 h2.9 M56.5 235.52 h4.0 M56.5 222.58 h2.9 M56.5 215.01 h2.9 M56.5 209.64 h2.9 M56.5 205.48 h2.9 M56.5 202.08 h2.9 M56.5 199.20 h2.9 M56.5 196.71 h2.9 M56.5 194.51 h2.9 M56.5 192.54 h4.0 M56.5 179.60 h2.9 M56.5 172.03 h2.9 M56.5 166.66 h2.9 M56.5 162.50 h2.9 M56.5 159.10 h2.9 M56.5 156.22 h2.9 M56.5 153.73 h2.9 M56.5 151.53 h2.9 M56.5 149.56 h4.0 M56.5 136.62 h2.9 M56.5 129.05 h2.9 M56.5 123.68 h2.9 M56.5 119.52 h2.9 M56.5 116.12 h2.9 M56.5 113.24 h2.9 M56.5 110.75 h2.9 M56.5 108.55 h2.9 M56.5 106.58 h4.0 M56.5 93.64 h2.9 M56.5 86.07 h2.9 M56.5 80.70 h2.9 M56.5 76.54 h2.9 M56.5 73.14 h2.9 M56.5 70.26 h2.9 M56.5 67.77 h2.9 M56.5 65.57 h2.9 M56.5 63.60 h4.0 M56.5 50.66 h2.9 M56.5 43.09 h2.9 M56.5 37.72 h2.9 M56.5 33.56 h2.9 M56.5 30.16 h2.9 M56.5 27.28 h2.9 M56.5 24.79 h2.9" stroke="#222" stroke-width="0.8" fill="none"/>
<g font-family="Liberation Serif, serif">
<text x="51.5" y="316.4" font-size="14.3" fill="#222" textLength="12.0" lengthAdjust="spacingAndGlyphs" >10</text>
<text x="63.9" y="311.3" font-size="9.3" fill="#222" textLength="12.0" lengthAdjust="spacingAndGlyphs" >−3</text>
<text x="102.6" y="316.4" font-size="14.3" fill="#222" textLength="12.0" lengthAdjust="spacingAndGlyphs" >10</text>
<text x="115.0" y="311.3" font-size="9.3" fill="#222" textLength="12.0" lengthAdjust="spacingAndGlyphs" >−2</text>
<text x="153.7" y="316.4" font-size="14.3" fill="#222" textLength="12.0" lengthAdjust="spacingAndGlyphs" >10</text>
<text x="166.1" y="311.3" font-size="9.3" fill="#222" textLength="12.0" lengthAdjust="spacingAndGlyphs" >−1</text>
<text x="208.3" y="316.4" font-size="14.3" fill="#222" textLength="12.0" lengthAdjust="spacingAndGlyphs" >10</text>
<text x="221.3" y="311.3" font-size="9.3" fill="#222" textLength="4.2" lengthAdjust="spacingAndGlyphs" >0</text>
<text x="259.4" y="316.4" font-size="14.3" fill="#222" textLength="12.0" lengthAdjust="spacingAndGlyphs" >10</text>
<text x="272.4" y="311.3" font-size="9.3" fill="#222" textLength="4.2" lengthAdjust="spacingAndGlyphs" >1</text>
<text x="310.5" y="316.4" font-size="14.3" fill="#222" textLength="12.0" lengthAdjust="spacingAndGlyphs" >10</text>
<text x="323.5" y="311.3" font-size="9.3" fill="#222" textLength="4.2" lengthAdjust="spacingAndGlyphs" >2</text>
<text x="361.6" y="316.4" font-size="14.3" fill="#222" textLength="12.0" lengthAdjust="spacingAndGlyphs" >10</text>
<text x="374.6" y="311.3" font-size="9.3" fill="#222" textLength="4.2" lengthAdjust="spacingAndGlyphs" >3</text>
<text x="26.9" y="282.2" font-size="14.3" fill="#222" textLength="13.0" lengthAdjust="spacingAndGlyphs" >10</text>
<text x="40.3" y="277.1" font-size="9.3" fill="#222" textLength="12.0" lengthAdjust="spacingAndGlyphs" >−5</text>
<text x="26.9" y="239.3" font-size="14.3" fill="#222" textLength="13.0" lengthAdjust="spacingAndGlyphs" >10</text>
<text x="40.3" y="234.2" font-size="9.3" fill="#222" textLength="12.0" lengthAdjust="spacingAndGlyphs" >−4</text>
<text x="26.9" y="196.3" font-size="14.3" fill="#222" textLength="13.0" lengthAdjust="spacingAndGlyphs" >10</text>
<text x="40.3" y="191.2" font-size="9.3" fill="#222" textLength="12.0" lengthAdjust="spacingAndGlyphs" >−3</text>
<text x="26.9" y="153.3" font-size="14.3" fill="#222" textLength="13.0" lengthAdjust="spacingAndGlyphs" >10</text>
<text x="40.3" y="148.2" font-size="9.3" fill="#222" textLength="12.0" lengthAdjust="spacingAndGlyphs" >−2</text>
<text x="26.9" y="110.3" font-size="14.3" fill="#222" textLength="13.0" lengthAdjust="spacingAndGlyphs" >10</text>
<text x="40.3" y="105.2" font-size="9.3" fill="#222" textLength="12.0" lengthAdjust="spacingAndGlyphs" >−1</text>
<text x="34.3" y="67.3" font-size="14.3" fill="#222" textLength="13.0" lengthAdjust="spacingAndGlyphs" >10</text>
<text x="48.3" y="62.2" font-size="9.3" fill="#222" textLength="4.2" lengthAdjust="spacingAndGlyphs" >0</text>
<text x="102.6" y="12.3" font-size="12" fill="#222" textLength="38.2" lengthAdjust="spacingAndGlyphs" >Scalar,</text>
<text x="151.2" y="12.3" font-size="12" fill="#222" textLength="21.9" lengthAdjust="spacingAndGlyphs" >BR(</text>
<text x="173.6" y="12.3" font-size="12" fill="#222" font-style="italic" textLength="7.6" lengthAdjust="spacingAndGlyphs" >S</text>
<path d="M186.2 8.8 H198.0 M195.4 6.8 Q196.4 8.4 198.0 8.8 Q196.4 9.2 195.4 10.9" fill="none" stroke="#222" stroke-width="0.75" stroke-linecap="round"/>
<text x="203.8" y="12.3" font-size="12" fill="#222" font-style="italic" textLength="7.6" lengthAdjust="spacingAndGlyphs" >μ</text>
<text x="212.2" y="8.1" font-size="8.5" fill="#222" textLength="6.0" lengthAdjust="spacingAndGlyphs" >+</text>
<text x="219.5" y="12.3" font-size="12" fill="#222" font-style="italic" textLength="7.6" lengthAdjust="spacingAndGlyphs" >μ</text>
<text x="228.2" y="8.1" font-size="8.5" fill="#222" textLength="6.3" lengthAdjust="spacingAndGlyphs" >−</text>
<text x="236.3" y="12.3" font-size="12" fill="#222" textLength="3.8" lengthAdjust="spacingAndGlyphs" >)</text>
<text x="245.2" y="12.3" font-size="12" fill="#222" textLength="9.0" lengthAdjust="spacingAndGlyphs" >=</text>
<text x="258.2" y="12.3" font-size="12" fill="#222" textLength="6.0" lengthAdjust="spacingAndGlyphs" >1</text>
<text x="274.3" y="12.3" font-size="12" fill="#222" textLength="15.7" lengthAdjust="spacingAndGlyphs" >for</text>
<text x="294.4" y="12.3" font-size="12" fill="#222" font-style="italic" textLength="10.3" lengthAdjust="spacingAndGlyphs" >m</text>
<text x="305.1" y="14.0" font-size="8.5" fill="#222" font-style="italic" textLength="5.6" lengthAdjust="spacingAndGlyphs" >S</text>
<text x="316.1" y="12.9" font-size="14.5" fill="#222" textLength="8.8" lengthAdjust="spacingAndGlyphs" >&gt;</text>
<text x="330.0" y="12.3" font-size="12" fill="#222" textLength="5.8" lengthAdjust="spacingAndGlyphs" >2</text>
<text x="336.5" y="12.3" font-size="12" fill="#222" font-style="italic" textLength="10.6" lengthAdjust="spacingAndGlyphs" >m</text>
<text x="348.1" y="14.0" font-size="8.5" fill="#222" font-style="italic" textLength="6.6" lengthAdjust="spacingAndGlyphs" >μ</text>
<text x="1.6" y="167.6" font-size="19" fill="#222" font-style="italic" textLength="8.8" lengthAdjust="spacingAndGlyphs" >g</text>
<text x="11.2" y="169.9" font-size="11.5" fill="#222" font-style="italic" textLength="7.5" lengthAdjust="spacingAndGlyphs" >S</text>
<text x="193.4" y="343.5" font-size="18.5" fill="#222" font-style="italic" textLength="15.7" lengthAdjust="spacingAndGlyphs" >m</text>
<text x="209.5" y="345.7" font-size="12" fill="#222" font-style="italic" textLength="7.4" lengthAdjust="spacingAndGlyphs" >S</text>
<text x="222.2" y="343.5" font-size="18" fill="#222" textLength="41.3" lengthAdjust="spacingAndGlyphs" >[GeV]</text>
<text x="109.0" y="36.1" font-size="11.7" fill="#4d4d4d" textLength="47.7" lengthAdjust="spacingAndGlyphs" >Unitarity</text>
<text x="0" y="0" font-size="12.6" fill="#4d4d4d" textLength="57.6" lengthAdjust="spacingAndGlyphs" transform="translate(87.6,122.2) rotate(-90)" >Cosmology</text>
<text x="192.5" y="96.5" font-size="11" fill="#4d4d4d" textLength="39.1" lengthAdjust="spacingAndGlyphs" >BABAR</text>
<text x="237.0" y="96.5" font-size="11.5" fill="#4d4d4d" textLength="5.6" lengthAdjust="spacingAndGlyphs" >4</text>
<text x="243.2" y="96.5" font-size="11.5" fill="#4d4d4d" font-style="italic" textLength="6.2" lengthAdjust="spacingAndGlyphs" >μ</text>
<text x="273.8" y="53.5" font-size="11.5" fill="#4d4d4d" textLength="24.6" lengthAdjust="spacingAndGlyphs" >CMS</text>
<text x="270.9" y="68.5" font-size="11.5" fill="#4d4d4d" font-style="italic" textLength="6.7" lengthAdjust="spacingAndGlyphs" >Z</text>
<path d="M279.6 65.4 H290.2 M287.6 63.3 Q288.6 65.0 290.2 65.4 Q288.6 65.8 287.6 67.5" fill="none" stroke="#4d4d4d" stroke-width="0.75" stroke-linecap="round"/>
<text x="292.0" y="68.5" font-size="11.5" fill="#4d4d4d" textLength="5.8" lengthAdjust="spacingAndGlyphs" >4</text>
<text x="298.4" y="68.5" font-size="11.5" fill="#4d4d4d" font-style="italic" textLength="6.7" lengthAdjust="spacingAndGlyphs" >μ</text>
<text x="93.9" y="169.7" font-size="12.2" fill="#4d4d4d" textLength="9.2" lengthAdjust="spacingAndGlyphs" >Δ</text>
<text x="103.7" y="169.7" font-size="12.2" fill="#4d4d4d" font-style="italic" textLength="5.6" lengthAdjust="spacingAndGlyphs" >a</text>
<text x="109.5" y="171.6" font-size="8.5" fill="#4d4d4d" font-style="italic" textLength="5.2" lengthAdjust="spacingAndGlyphs" >μ</text>
<text x="119.6" y="170.3" font-size="14.5" fill="#4d4d4d" textLength="8.0" lengthAdjust="spacingAndGlyphs" >&gt;</text>
<text x="132.4" y="169.7" font-size="12.2" fill="#4d4d4d" textLength="5.6" lengthAdjust="spacingAndGlyphs" >5</text>
<text x="138.2" y="169.7" font-size="12.2" fill="#4d4d4d" font-style="italic" textLength="7.2" lengthAdjust="spacingAndGlyphs" >σ</text>
<text x="0" y="0" font-size="12.0" fill="#2a2aff" textLength="40.5" lengthAdjust="spacingAndGlyphs" transform="translate(321.3,80.9) rotate(-41)" stroke="#2a2aff" stroke-width="0.25">HL-LHC</text>
<text x="330.6" y="168.0" font-size="12" fill="#9a2257" font-style="italic" textLength="6.7" lengthAdjust="spacingAndGlyphs" >μ</text>
<text x="342.0" y="168.0" font-size="12" fill="#9a2257" textLength="37.5" lengthAdjust="spacingAndGlyphs" >collider</text>
<text x="339.9" y="182.5" font-size="12" fill="#9a2257" textLength="5.6" lengthAdjust="spacingAndGlyphs" >3</text>
<text x="347.0" y="182.5" font-size="12" fill="#9a2257" textLength="21.0" lengthAdjust="spacingAndGlyphs" >TeV</text>
<text x="268.4" y="196.2" font-size="12" fill="#9a2257" font-style="italic" textLength="6.5" lengthAdjust="spacingAndGlyphs" >μ</text>
<text x="279.9" y="196.2" font-size="12" fill="#9a2257" textLength="37.8" lengthAdjust="spacingAndGlyphs" >collider</text>
<text x="270.6" y="210.3" font-size="12" fill="#9a2257" textLength="16.2" lengthAdjust="spacingAndGlyphs" >215</text>
<text x="290.0" y="210.3" font-size="12" fill="#9a2257" textLength="24.5" lengthAdjust="spacingAndGlyphs" >GeV</text>
<text x="195.6" y="230.3" font-size="12" fill="#d93238" textLength="23.8" lengthAdjust="spacingAndGlyphs" >Belle</text>
<text x="223.3" y="230.3" font-size="12" fill="#d93238" textLength="8.7" lengthAdjust="spacingAndGlyphs" >II</text>
<text x="235.8" y="230.3" font-size="12" fill="#d93238" textLength="5.7" lengthAdjust="spacingAndGlyphs" >4</text>
<text x="241.9" y="230.3" font-size="12" fill="#d93238" font-style="italic" textLength="6.3" lengthAdjust="spacingAndGlyphs" >μ</text>
<text x="81.9" y="238.2" font-size="12" fill="#222" textLength="36.8" lengthAdjust="spacingAndGlyphs" >ATLAS</text>
<text x="71.7" y="251.2" font-size="12" fill="#222" textLength="55.2" lengthAdjust="spacingAndGlyphs" >fixed-target</text>
<text x="150.9" y="232.9" font-size="11.5" fill="#4f9494" textLength="26.9" lengthAdjust="spacingAndGlyphs" >Beam</text>
<text x="149.4" y="242.7" font-size="11.5" fill="#4f9494" textLength="29.6" lengthAdjust="spacingAndGlyphs" >Dump</text>
<g transform="translate(140.6,253.6) rotate(21)">
<text x="0.0" y="0.0" font-size="12" fill="#4f9494" font-style="italic" textLength="7.2" lengthAdjust="spacingAndGlyphs" >S</text>
<path d="M11.0 -3.4 H22.6 M20.0 -5.5 Q21.0 -3.8 22.6 -3.4 Q21.0 -3.0 20.0 -1.3" fill="none" stroke="#4f9494" stroke-width="0.75" stroke-linecap="round"/>
<text x="26.5" y="-2.5" font-size="11.5" fill="#4f9494" font-style="italic" textLength="14.2" lengthAdjust="spacingAndGlyphs" >γγ</text>
</g>
<text x="75.0" y="274.0" font-size="12.3" fill="#e23be2" font-style="italic" textLength="11.9" lengthAdjust="spacingAndGlyphs" >M</text>
<text x="87.5" y="269.6" font-size="8.5" fill="#e23be2" textLength="3.9" lengthAdjust="spacingAndGlyphs" >3</text>
<text x="97.0" y="274.0" font-size="12.3" fill="#e23be2" font-style="italic" textLength="6.6" lengthAdjust="spacingAndGlyphs" >S</text>
<path d="M107.7 270.6 H118.5 M115.9 268.5 Q116.9 270.2 118.5 270.6 Q116.9 271.0 115.9 272.7" fill="none" stroke="#e23be2" stroke-width="0.75" stroke-linecap="round"/>
<text x="123.7" y="274.0" font-size="12.3" fill="#e23be2" font-style="italic" textLength="9.5" lengthAdjust="spacingAndGlyphs" >E</text>
<path d="M126.2 276.2 L130.2 263.9" stroke="#e23be2" stroke-width="0.8" fill="none"/>
<text x="256.9" y="269.9" font-size="17" fill="#1f7d1f" font-style="italic" textLength="8.0" lengthAdjust="spacingAndGlyphs" >a</text>
<text x="265.4" y="272.3" font-size="11.5" fill="#1f7d1f" font-style="italic" textLength="7.0" lengthAdjust="spacingAndGlyphs" >μ</text>
<text x="277.3" y="269.9" font-size="17" fill="#1f7d1f" textLength="51.0" lengthAdjust="spacingAndGlyphs" >favored</text>
<text x="0" y="0" font-size="9.7" fill="#222" textLength="57.6" lengthAdjust="spacingAndGlyphs" transform="translate(373.8,286.4) rotate(-90)" >UV disfavored</text>
<path d="M376 252.3 H390 M387.2 250.3 Q388.2 251.9 390 252.3 Q388.2 252.7 387.2 254.3" fill="none" stroke="#222" stroke-width="0.7"/>
</g>
</svg>
</body></html>
